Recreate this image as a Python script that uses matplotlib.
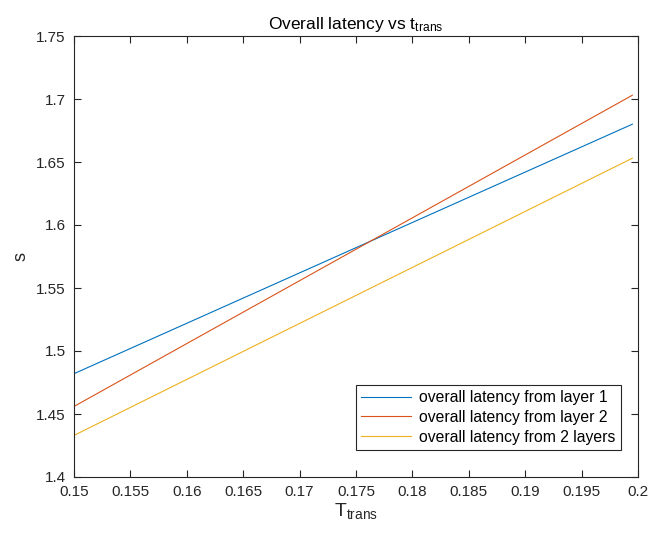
import matplotlib
matplotlib.use('Agg')
import matplotlib.pyplot as plt

plt.rcParams['font.family'] = ['Liberation Sans', 'DejaVu Sans']
plt.rcParams['mathtext.fontset'] = 'custom'
plt.rcParams['mathtext.rm'] = 'Liberation Sans'

# transmission time (s) and latency endpoints
t_trans = [0.15, 0.1995]
lat_layer1 = [1.482, 1.680]
lat_layer2 = [1.456, 1.703]
lat_both = [1.433, 1.653]

labels = ['overall latency from layer 1',
          'overall latency from layer 2',
          'overall latency from 2 layers']
colors = ['#0072BD', '#D95319', '#EDB120']

xticks = [0.15, 0.155, 0.16, 0.165, 0.17, 0.175, 0.18, 0.185, 0.19, 0.195, 0.2]
yticks = [1.4, 1.45, 1.5, 1.55, 1.6, 1.65, 1.7, 1.75]

fig = plt.figure(figsize=(6.51, 5.41), dpi=100)
ax = fig.add_axes([74 / 651, 1 - 477 / 541, 564 / 651, 441 / 541])

for y, lab, c in zip([lat_layer1, lat_layer2, lat_both], labels, colors):
    ax.plot(t_trans, y, color=c, lw=0.8, label=lab)

ax.set_xlim(0.15, 0.2)
ax.set_ylim(1.4, 1.75)
ax.set_xticks(xticks)
ax.set_xticklabels(['%g' % v for v in xticks])
ax.set_yticks(yticks)
ax.set_yticklabels(['%g' % v for v in yticks])

axcol = '#262626'
for s in ax.spines.values():
    s.set_color(axcol)
    s.set_linewidth(0.8)
ax.tick_params(direction='in', top=True, right=True, length=5, width=0.8,
               colors=axcol, labelsize=11, pad=6)

ax.set_title(r'Overall latency vs $\mathregular{t_{trans}}$', fontsize=12.5, color='black', pad=5)
ax.set_xlabel(r'$\mathregular{T_{trans}}$', fontsize=14, color=axcol, labelpad=1)
ax.set_ylabel('s', fontsize=13, color=axcol, labelpad=5)

leg = ax.legend(loc='lower right', bbox_to_anchor=(0.970, 0.061), fontsize=11.3, fancybox=False,
                framealpha=1, edgecolor=axcol, handlelength=3.2, handletextpad=0.5,
                borderpad=0.35, labelspacing=0.3, borderaxespad=0)
leg.get_frame().set_linewidth(0.8)

fig.savefig('out.png', dpi=100)
